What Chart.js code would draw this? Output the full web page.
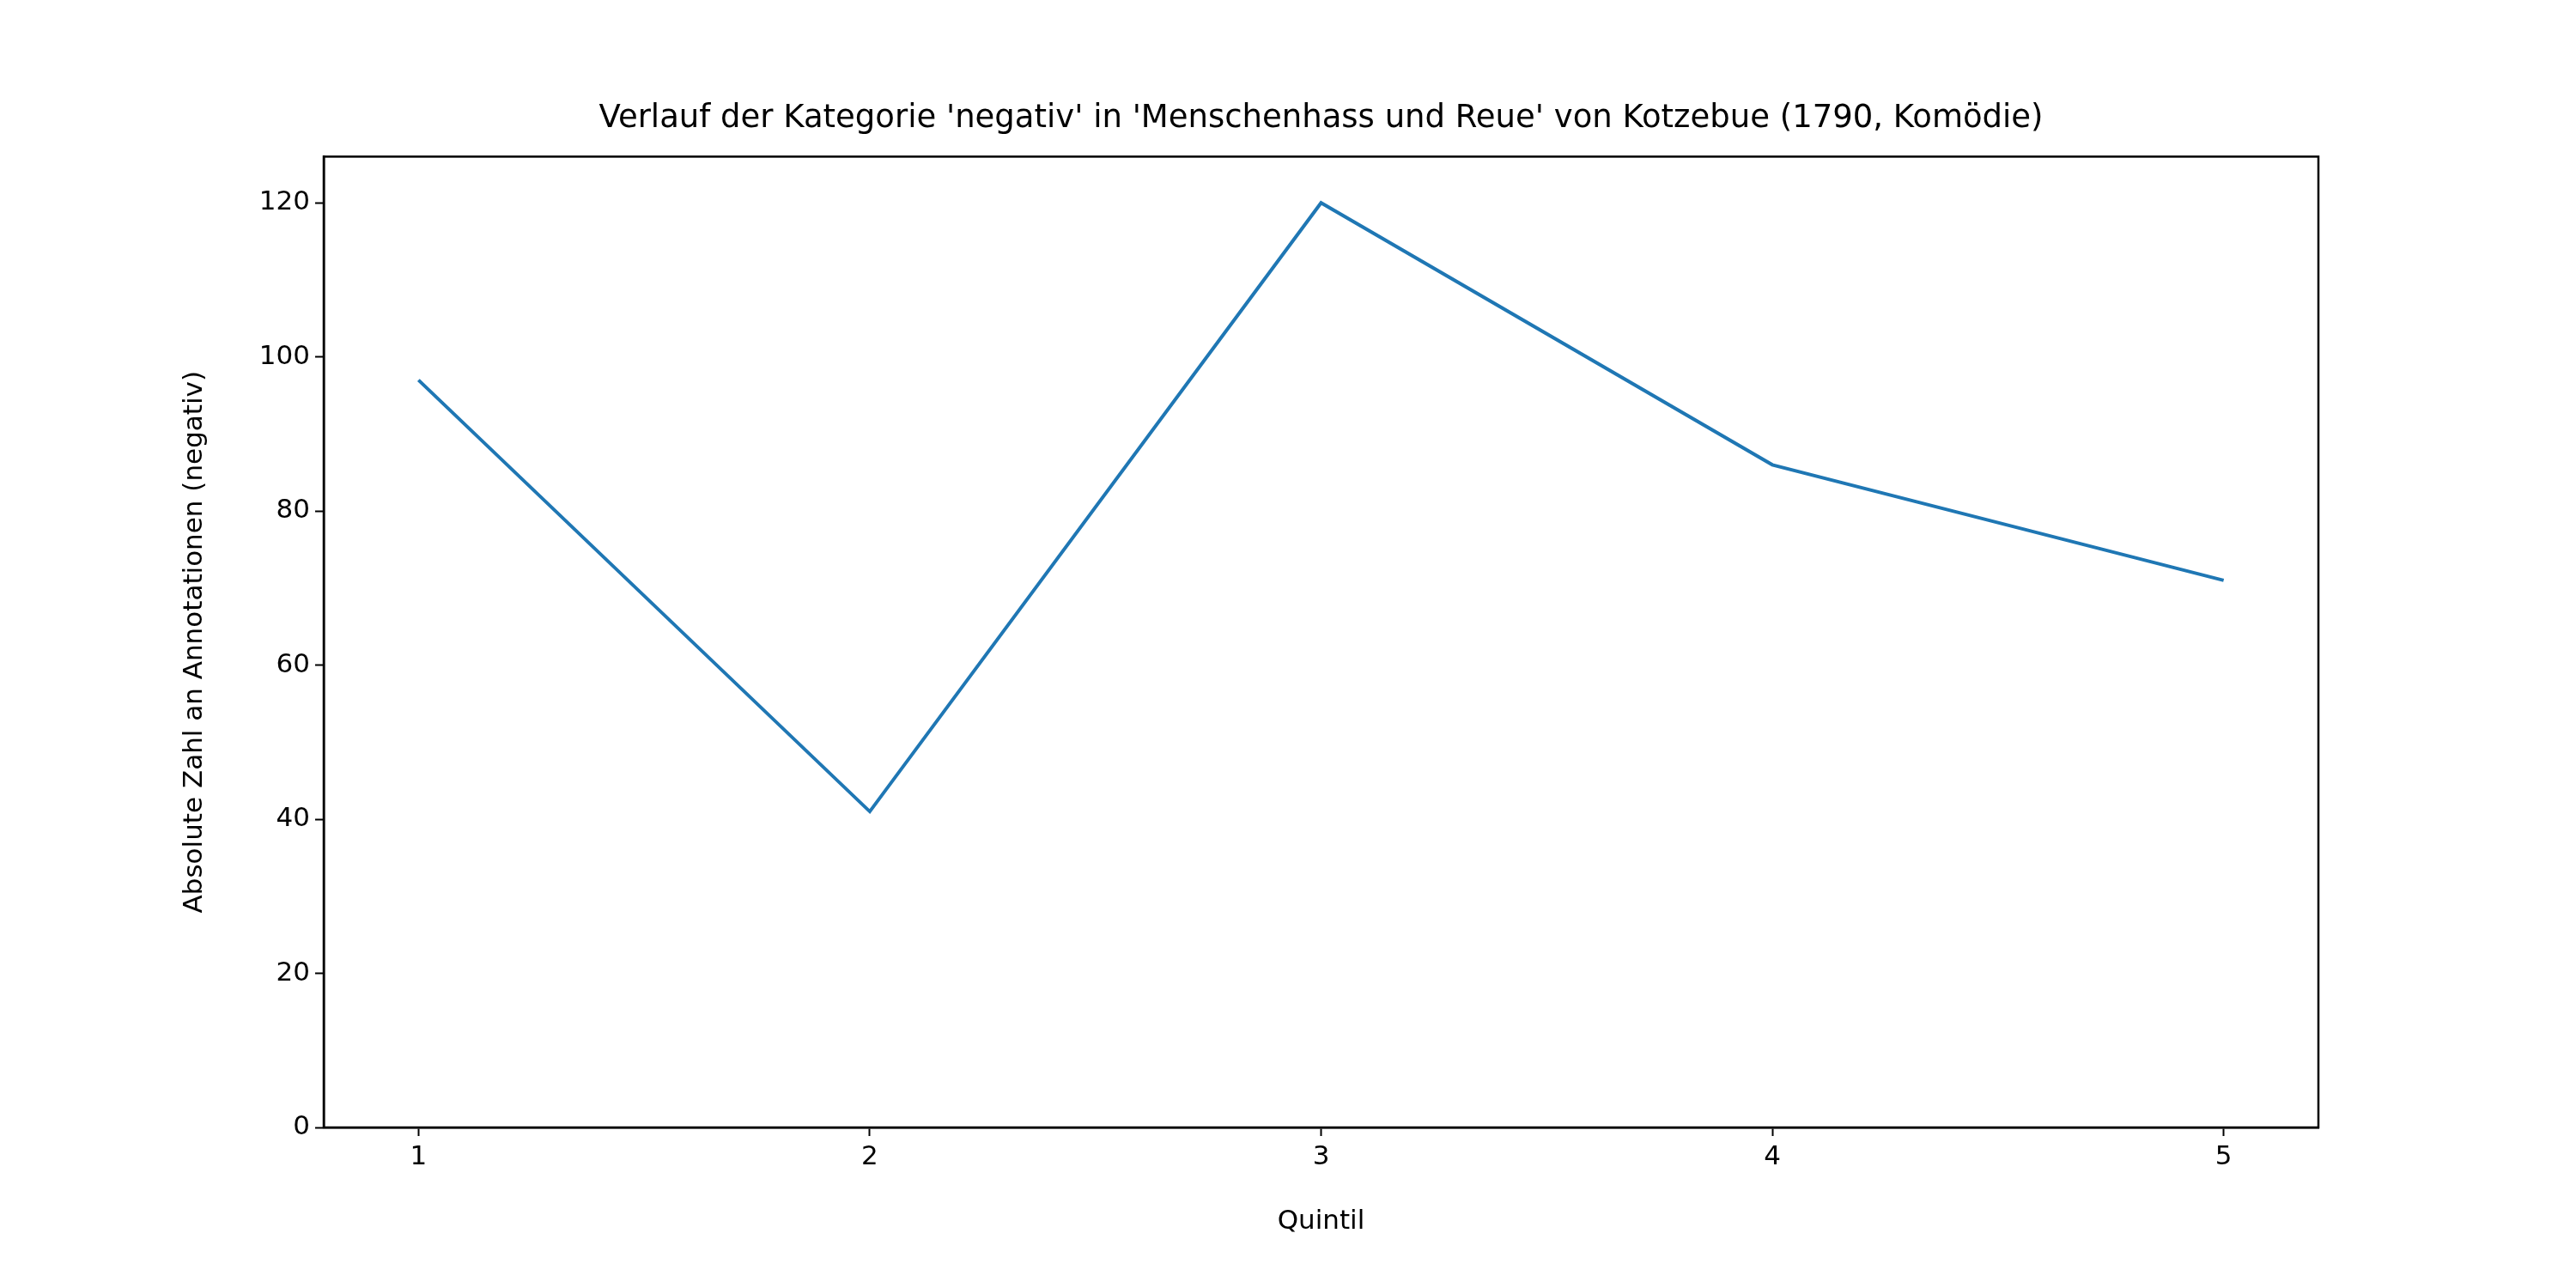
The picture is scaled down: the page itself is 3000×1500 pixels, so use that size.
<!DOCTYPE html>
<html>
<head>
<meta charset="utf-8">
<script src="https://cdn.jsdelivr.net/npm/chart.js@4"></script>
<style>
body { margin: 0; background: #fff; }
canvas { display: block; }
</style>
</head>
<body>
<canvas id="myChart" width="3000" height="1500" style="width:3000px;height:1500px"></canvas>
<script>
const quintile = [1, 2, 3, 4, 5];
const negativ = [97, 41, 120, 86, 71];
const yTicks = [0, 20, 40, 60, 80, 100, 120];

// full box around the plot area
const frame = {
    id: 'frame',
    afterDraw(chart)
    {
        const a = chart.chartArea;
        const c = chart.ctx;
        c.save();
        c.strokeStyle = '#000';
        c.lineWidth = 2.5;
        c.strokeRect(a.left, a.top, a.right - a.left, a.bottom - a.top);
        c.restore();
    }
};

const font = 'DejaVu Sans';
const ctx = document.getElementById('myChart');
new Chart(ctx, {
    type: 'line',
    data: {
        datasets: [{
            data: quintile.map((q, i) => ({ x: q, y: negativ[i] })),
            borderColor: '#1f77b4',
            borderWidth: 4,
            pointRadius: 0,
            tension: 0
        }]
    },
    options: {
        responsive: false,
        devicePixelRatio: 1,
        animation: false,
        layout: { padding: { left: 208, right: 300, top: 0, bottom: 58 } },
        plugins: {
            legend: { display: false },
            tooltip: { enabled: false },
            title: {
                display: true,
                fullSize: false,
                text: "Verlauf der Kategorie 'negativ' in 'Menschenhass und Reue' von Kotzebue (1790, Komödie)",
                color: '#000',
                font: { family: font, size: 37, weight: 'normal' },
                lineHeight: 1.2,
                padding: { top: 116, bottom: 22 }
            }
        },
        scales: {
            x: {
                type: 'linear',
                min: 0.79,
                max: 5.21,
                afterFit(s) { s.height = 129; },
                afterBuildTicks(s) { s.ticks = quintile.map(v => ({ value: v })); },
                grid: { drawOnChartArea: false, tickLength: 10, color: '#000', tickWidth: 2 },
                border: { color: '#000', width: 2.5 },
                ticks: { color: '#000', font: { family: font, size: 31 }, padding: 6 },
                title: { display: true, text: 'Quintil', color: '#000', font: { family: font, size: 31 }, padding: 0 }
            },
            y: {
                min: 0,
                max: 126,
                afterFit(s) { s.width = 377 - 208; },
                afterBuildTicks(s) { s.ticks = yTicks.map(v => ({ value: v })); },
                grid: { drawOnChartArea: false, tickLength: 10, color: '#000', tickWidth: 2 },
                border: { color: '#000', width: 2.5 },
                ticks: { color: '#000', font: { family: font, size: 31 }, padding: 6 },
                title: { display: true, text: 'Absolute Zahl an Annotationen (negativ)', color: '#000', font: { family: font, size: 31 }, padding: 0 }
            }
        }
    },
    plugins: [frame]
});
</script>
</body>
</html>
